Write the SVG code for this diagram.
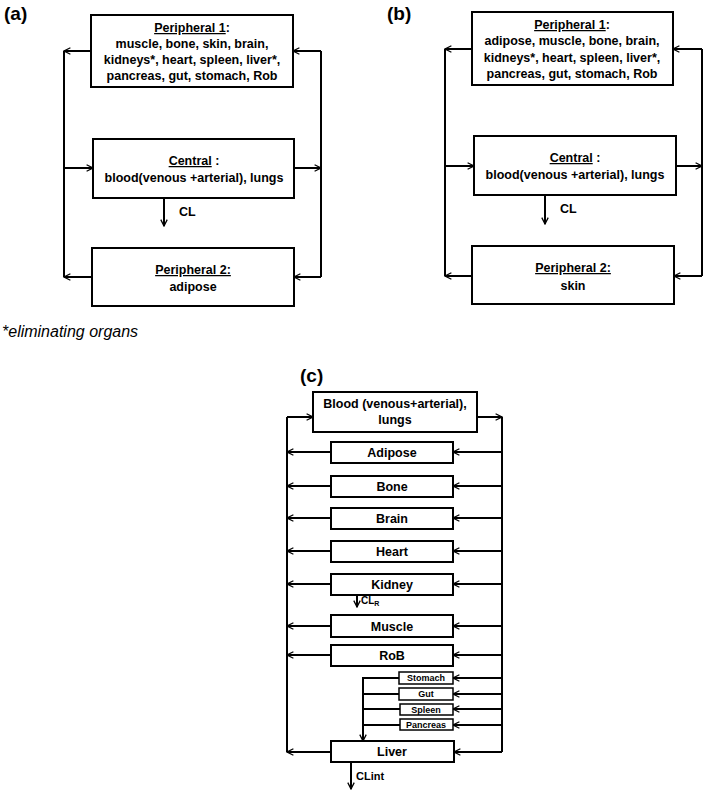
<svg xmlns="http://www.w3.org/2000/svg" width="709" height="792" viewBox="0 0 709 792">
<style>
.b{fill:#fff;stroke:#000;stroke-width:2}
.c line,.c polyline{stroke:#000;stroke-width:2;fill:none}
.t{font-family:"Liberation Sans",Arial,sans-serif;font-weight:bold;font-size:12.5px;text-anchor:middle}
.s{font-size:9px}
.lbl{font-family:"Liberation Sans",Arial,sans-serif;font-weight:bold;font-size:19px}
</style>
<defs>
<marker id="ar" viewBox="0 0 10 10" refX="9" refY="5" markerWidth="8" markerHeight="8" markerUnits="userSpaceOnUse" orient="auto"><polyline points="1,1 9,5 1,9" fill="none" stroke="#000" stroke-width="1.6"/></marker>
</defs>
<rect width="709" height="792" fill="#fff"/>
<text class="lbl" x="4" y="20">(a)</text>
<text class="lbl" x="387" y="20">(b)</text>
<text class="lbl" x="300" y="382">(c)</text>
<text x="2" y="337" font-family="Liberation Sans,Arial,sans-serif" font-style="italic" font-size="16">*eliminating organs</text>

<g class="c" id="connectors">
<!-- a -->
<line x1="64" y1="51" x2="64" y2="277"/><line x1="321" y1="51" x2="321" y2="277"/>
<line x1="91" y1="51" x2="64" y2="51" marker-end="url(#ar)"/>
<line x1="321" y1="51" x2="293" y2="51" marker-end="url(#ar)"/>
<line x1="64" y1="168" x2="93" y2="168" marker-end="url(#ar)"/>
<line x1="294" y1="168" x2="321" y2="168" marker-end="url(#ar)"/>
<line x1="92" y1="277" x2="64" y2="277" marker-end="url(#ar)"/>
<line x1="321" y1="277" x2="294" y2="277" marker-end="url(#ar)"/>
<line x1="164" y1="198" x2="164" y2="226" marker-end="url(#ar)"/>
<!-- b -->
<line x1="445" y1="49" x2="445" y2="276"/><line x1="702" y1="49" x2="702" y2="276"/>
<line x1="472" y1="49" x2="445" y2="49" marker-end="url(#ar)"/>
<line x1="702" y1="49" x2="673" y2="49" marker-end="url(#ar)"/>
<line x1="445" y1="166" x2="474" y2="166" marker-end="url(#ar)"/>
<line x1="676" y1="166" x2="702" y2="166" marker-end="url(#ar)"/>
<line x1="472" y1="276" x2="445" y2="276" marker-end="url(#ar)"/>
<line x1="702" y1="276" x2="674" y2="276" marker-end="url(#ar)"/>
<line x1="545" y1="195" x2="545" y2="224" marker-end="url(#ar)"/>
<!-- c -->
<line x1="287" y1="417" x2="287" y2="752"/><line x1="502" y1="417" x2="502" y2="752"/>
<line x1="287" y1="417" x2="313" y2="417" marker-end="url(#ar)"/>
<line x1="477" y1="417" x2="502" y2="417" marker-end="url(#ar)"/>
<line x1="331" y1="452" x2="287" y2="452" marker-end="url(#ar)"/><line x1="502" y1="452" x2="453" y2="452" marker-end="url(#ar)"/>
<line x1="331" y1="486" x2="287" y2="486" marker-end="url(#ar)"/><line x1="502" y1="486" x2="453" y2="486" marker-end="url(#ar)"/>
<line x1="331" y1="518" x2="287" y2="518" marker-end="url(#ar)"/><line x1="502" y1="518" x2="453" y2="518" marker-end="url(#ar)"/>
<line x1="331" y1="551" x2="287" y2="551" marker-end="url(#ar)"/><line x1="502" y1="551" x2="453" y2="551" marker-end="url(#ar)"/>
<line x1="331" y1="584" x2="287" y2="584" marker-end="url(#ar)"/><line x1="502" y1="584" x2="453" y2="584" marker-end="url(#ar)"/>
<line x1="331" y1="626" x2="287" y2="626" marker-end="url(#ar)"/><line x1="502" y1="626" x2="453" y2="626" marker-end="url(#ar)"/>
<line x1="331" y1="655" x2="287" y2="655" marker-end="url(#ar)"/><line x1="502" y1="655" x2="453" y2="655" marker-end="url(#ar)"/>
<line x1="331" y1="752" x2="287" y2="752" marker-end="url(#ar)"/><line x1="502" y1="752" x2="454" y2="752" marker-end="url(#ar)"/>
<line x1="502" y1="678" x2="453" y2="678" marker-end="url(#ar)"/>
<line x1="502" y1="694" x2="453" y2="694" marker-end="url(#ar)"/>
<line x1="502" y1="709" x2="453" y2="709" marker-end="url(#ar)"/>
<line x1="502" y1="725" x2="453" y2="725" marker-end="url(#ar)"/>
<polyline points="399,678 363,678 363,741" marker-end="url(#ar)"/>
<line x1="399" y1="694" x2="363" y2="694"/>
<line x1="400" y1="709" x2="363" y2="709"/>
<line x1="400" y1="725" x2="363" y2="725"/>
<line x1="357" y1="595" x2="357" y2="607" marker-end="url(#ar)"/>
<line x1="351" y1="762" x2="351" y2="789" marker-end="url(#ar)"/>
</g>
<text class="t" x="179" y="216" text-anchor="start" style="text-anchor:start">CL</text>
<text class="t" x="560" y="213" style="text-anchor:start">CL</text>
<text class="t" x="361" y="604" style="text-anchor:start;font-size:10px">CL<tspan font-size="7" dy="2">R</tspan></text>
<text class="t" x="356" y="780" style="text-anchor:start;font-size:11px">CLint</text>

<g id="a-p1"><rect class="b" x="91" y="15" width="202" height="72"/>
<text class="t" x="192" y="32"><tspan text-decoration="underline">Peripheral 1</tspan>:</text>
<text class="t" x="192" y="48">muscle, bone, skin, brain,</text>
<text class="t" x="192" y="64">kidneys*, heart, spleen, liver*,</text>
<text class="t" x="192" y="80">pancreas, gut, stomach, Rob</text></g>
<g id="a-central"><rect class="b" x="93" y="139" width="201" height="59"/>
<text class="t" x="194" y="165"><tspan text-decoration="underline">Central</tspan> :</text>
<text class="t" x="194" y="182">blood(venous +arterial), lungs</text></g>
<g id="a-p2"><rect class="b" x="92" y="248" width="202" height="58"/>
<text class="t" x="193" y="274" text-decoration="underline">Peripheral 2:</text>
<text class="t" x="193" y="291">adipose</text></g>

<g id="b-p1"><rect class="b" x="472" y="12" width="201" height="73"/>
<text class="t" x="572" y="29"><tspan text-decoration="underline">Peripheral 1</tspan>:</text>
<text class="t" x="572" y="45">adipose, muscle, bone, brain,</text>
<text class="t" x="572" y="62">kidneys*, heart, spleen, liver*,</text>
<text class="t" x="572" y="78">pancreas, gut, stomach, Rob</text></g>
<g id="b-central"><rect class="b" x="474" y="136" width="202" height="59"/>
<text class="t" x="575" y="162"><tspan text-decoration="underline">Central</tspan> :</text>
<text class="t" x="575" y="179">blood(venous +arterial), lungs</text></g>
<g id="b-p2"><rect class="b" x="472" y="246" width="202" height="58"/>
<text class="t" x="573" y="272" text-decoration="underline">Peripheral 2:</text>
<text class="t" x="573" y="290">skin</text></g>

<g id="c-blood"><rect class="b" x="313" y="392" width="164" height="40"/>
<text class="t" x="395" y="408">Blood (venous+arterial),</text>
<text class="t" x="395" y="424">lungs</text></g>
<g id="c-adipose"><rect class="b" x="331" y="442" width="122" height="21"/><text class="t" x="392" y="457">Adipose</text></g>
<g id="c-bone"><rect class="b" x="331" y="476" width="122" height="21"/><text class="t" x="392" y="491">Bone</text></g>
<g id="c-brain"><rect class="b" x="331" y="508" width="122" height="21"/><text class="t" x="392" y="523">Brain</text></g>
<g id="c-heart"><rect class="b" x="331" y="541" width="122" height="21"/><text class="t" x="392" y="556">Heart</text></g>
<g id="c-kidney"><rect class="b" x="331" y="574" width="122" height="21"/><text class="t" x="392" y="589">Kidney</text></g>
<g id="c-muscle"><rect class="b" x="331" y="615" width="122" height="22"/><text class="t" x="392" y="631">Muscle</text></g>
<g id="c-rob"><rect class="b" x="331" y="645" width="122" height="21"/><text class="t" x="392" y="660">RoB</text></g>
<g id="c-stomach"><rect class="b" x="399" y="672" width="54" height="12" style="stroke-width:1.5"/><text class="t s" x="426" y="681">Stomach</text></g>
<g id="c-gut"><rect class="b" x="399" y="688" width="54" height="12" style="stroke-width:1.5"/><text class="t s" x="426" y="697">Gut</text></g>
<g id="c-spleen"><rect class="b" x="400" y="704" width="53" height="11" style="stroke-width:1.5"/><text class="t s" x="426" y="713">Spleen</text></g>
<g id="c-pancreas"><rect class="b" x="400" y="719" width="53" height="11" style="stroke-width:1.5"/><text class="t s" x="426" y="728">Pancreas</text></g>
<g id="c-liver"><rect class="b" x="331" y="741" width="123" height="21"/><text class="t" x="392" y="756">Liver</text></g>
</svg>
